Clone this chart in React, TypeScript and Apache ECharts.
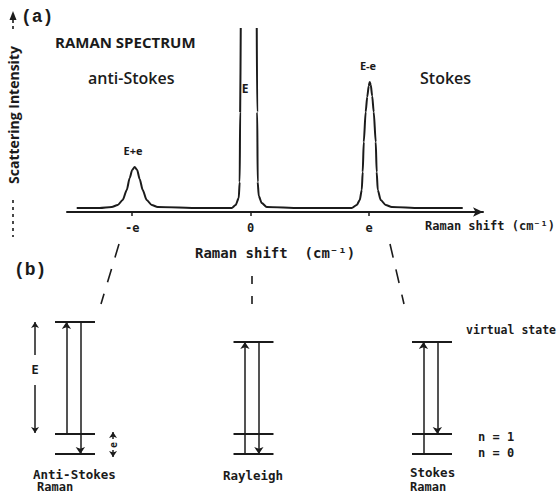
import React, { useEffect, useRef } from 'react';
import * as echarts from 'echarts';

// ---- (a) Raman spectrum: shift in units of e, intensity in arbitrary units
const shiftValues = [
  -1.468, -1.274, -1.173, -1.122, -1.08, -1.046, -1.021, -1.0, -0.979, -0.958, -0.937, -0.911, -0.878,
  -0.835, -0.785, -0.43, -0.16, -0.127, -0.101, -0.093, -0.089, -0.084, -0.016, 0.051, 0.055, 0.059,
  0.068, 0.093, 0.135, 0.414, 0.852, 0.895, 0.92, 0.937, 0.945, 0.954, 0.97, 0.983, 0.996, 1.004,
  1.013, 1.025, 1.038, 1.055, 1.063, 1.072, 1.097, 1.139, 1.19, 1.426, 1.789,
];
const intensityValues: (number | null)[] = [
  4, 4, 5, 7, 12, 22, 34, 42, 45, 42, 33, 22, 12, 7, 5, 4, 4, 7, 14, 30, 100, 184, null, 184, 100, 30,
  16, 9, 5, 4, 4, 7, 12, 22, 40, 70, 100, 115, 126, 130, 127, 116, 100, 70, 40, 22, 12, 7, 5, 4, 4,
];
const tickValues = [-1, 0, 1];
const tickLabels = ['-e', '0', 'e'];

// ---- (b) energy-level diagrams (energy in units of e)
const diagramColumns = [0, 1, 2];
const diagramNames = ['Anti-Stokes', 'Rayleigh', 'Stokes'];
const startLevels = [1, 0, 0];
const endLevels = [0, 0, 1];
const vibLevels = [0, 1];
const photonEnergy = 5.6;

const INK = '#1b1b1b';
const MONO = "'DejaVu Sans Mono', monospace";
const SANS = "'Open Sans', 'DejaVu Sans', sans-serif";

export default function App() {
  const ref = useRef<HTMLDivElement>(null);

  useEffect(() => {
    const chart = echarts.init(ref.current!, null, { renderer: 'svg' });

    const spectrum = shiftValues.map((x, i) => [x, intensityValues[i] === null ? '-' : intensityValues[i]]);

    const halfW = 0.112;
    const upOff = -0.048;
    const downOff = 0.03;
    const levelLines: any[] = [];
    const arrows: any[] = [];
    diagramColumns.forEach((c, i) => {
      const virt = startLevels[i] + photonEnergy;
      [...vibLevels, virt].forEach((lv) => {
        levelLines.push({ coords: [[c - halfW, lv], [c + halfW, lv]] });
      });
      arrows.push({ coords: [[c + upOff, startLevels[i]], [c + upOff, virt]] });
      arrows.push({ coords: [[c + downOff, virt], [c + downOff, endLevels[i]]] });
    });
    // E and e dimension arrows beside the anti-Stokes diagram
    const eX = -0.224;
    const vibX = 0.213;
    const topAS = startLevels[0] + photonEnergy;
    const dimArrows = [
      { coords: [[eX, 4.95], [eX, topAS]] },
      { coords: [[eX, 3.45], [eX, vibLevels[1] + 0.05]] },
      { coords: [[vibX, 0.75], [vibX, vibLevels[1] + 0.1]] },
      { coords: [[vibX, 0.2], [vibX, vibLevels[0] - 0.15]] },
    ];

    const txt = (text: string, x: number, y: number, o: any = {}) => ({
      type: 'text',
      x,
      y,
      rotation: o.rotation || 0,
      style: {
        text,
        fill: INK,
        fontFamily: o.family || MONO,
        fontSize: o.size || 12,
        fontWeight: o.weight || 'bold',
        align: o.align || 'left',
        verticalAlign: 'middle',
      },
    });
    const dash = (x1: number, y1: number, x2: number, y2: number, d: number[]) => ({
      type: 'line',
      shape: { x1, y1, x2, y2 },
      style: { stroke: INK, lineWidth: 1.6, lineDash: d },
    });

    const option: any = {
      animation: false,
      backgroundColor: '#ffffff',
      grid: [
        { left: 67, right: 77, top: 12, bottom: 283 },
        { left: 30.375, right: 83.375, top: 314, bottom: 21 },
      ],
      xAxis: [
        {
          gridIndex: 0,
          type: 'value',
          min: -1.55,
          max: 1.96,
          splitLine: { show: false },
          axisLine: {
            show: true,
            onZero: false,
            symbol: ['none', 'arrow'],
            symbolSize: [7, 10],
            lineStyle: { color: INK, width: 2 },
          },
          axisTick: { show: true, customValues: tickValues, length: 4, lineStyle: { color: INK, width: 1.5 } },
          axisLabel: {
            customValues: tickValues,
            formatter: (v: number) => tickLabels[tickValues.indexOf(Math.round(v))],
            color: INK,
            fontFamily: MONO,
            fontWeight: 'bold',
            fontSize: 12,
            margin: 10,
          },
        },
        { gridIndex: 1, type: 'value', min: -0.25, max: 2.25, show: false },
      ],
      yAxis: [
        { gridIndex: 0, type: 'value', min: 0, max: 200, show: false },
        { gridIndex: 1, type: 'value', min: -1, max: 7, show: false },
      ],
      series: [
        {
          type: 'line',
          xAxisIndex: 0,
          yAxisIndex: 0,
          data: spectrum,
          showSymbol: false,
          smooth: 0.25,
          smoothMonotone: 'x',
          connectNulls: false,
          lineStyle: { color: INK, width: 2 },
          silent: true,
        },
        {
          type: 'lines',
          coordinateSystem: 'cartesian2d',
          xAxisIndex: 1,
          yAxisIndex: 1,
          symbol: 'none',
          lineStyle: { color: INK, width: 2, opacity: 1, curveness: 0 },
          data: levelLines,
          silent: true,
        },
        {
          type: 'lines',
          coordinateSystem: 'cartesian2d',
          xAxisIndex: 1,
          yAxisIndex: 1,
          symbol: ['none', 'arrow'],
          symbolSize: 7,
          lineStyle: { color: INK, width: 1.5, opacity: 1, curveness: 0 },
          data: arrows,
          silent: true,
        },
        {
          type: 'lines',
          coordinateSystem: 'cartesian2d',
          xAxisIndex: 1,
          yAxisIndex: 1,
          symbol: ['none', 'arrow'],
          symbolSize: 6,
          lineStyle: { color: INK, width: 1.5, opacity: 1, curveness: 0 },
          data: dimArrows,
          silent: true,
        },
      ],
      graphic: [
        // panel (a)
        txt('(a)', 21, 17, { family: "'Liberation Mono', monospace", size: 18 }),
        {
          type: 'polygon',
          shape: { points: [[9.5, 20], [13, 11], [16.5, 20]] },
          style: { fill: INK },
        },
        dash(13, 20, 13, 31, [3, 3]),
        txt('Scattering Intensity', 13, 115, { family: SANS, size: 14, align: 'center', rotation: Math.PI / 2 }),
        dash(13, 200, 13, 237, [3, 4]),
        txt('RAMAN SPECTRUM', 55, 42, { family: SANS, size: 15 }),
        txt('anti-Stokes', 88, 78, { family: SANS, size: 16, weight: 600 }),
        txt('Stokes', 420, 78, { family: SANS, size: 16, weight: 600 }),
        txt('E+e', 133, 150, { family: SANS, size: 11, align: 'center' }),
        txt('E', 245, 88, { family: SANS, size: 12, align: 'center' }),
        txt('E-e', 368, 65, { family: SANS, size: 11, align: 'center' }),
        txt('Raman shift (cm⁻¹)', 425, 226, { size: 12 }),
        txt('Raman shift  (cm⁻¹)', 195, 253, { size: 14 }),
        // connectors
        dash(119, 244, 101, 304, [14, 12]),
        dash(252, 276, 252, 305, [8, 12]),
        dash(390, 244, 404, 304, [14, 12]),
        // panel (b)
        txt('(b)', 14, 270, { family: "'Liberation Mono', monospace", size: 18 }),
        txt('virtual state', 466, 330, { size: 11.5 }),
        txt('n = 1', 478, 437, { size: 12 }),
        txt('n = 0', 478, 453, { size: 12 }),
        txt('E', 35, 370, { size: 12, align: 'center' }),
        txt('e', 113, 445, { size: 10, align: 'center', rotation: Math.PI / 2 }),
        txt(diagramNames[0], 33, 474, { size: 12.5 }),
        txt('Raman', 37, 487, { size: 12 }),
        txt(diagramNames[1], 253, 475, { size: 12.5, align: 'center' }),
        txt(diagramNames[2], 410, 472, { size: 12.5 }),
        txt('Raman', 410, 487, { size: 12 }),
      ],
    };

    chart.setOption(option);
    return () => chart.dispose();
  }, []);

  return (
    <div
      ref={ref}
      style={{ position: 'fixed', left: 0, top: 0, width: 560, height: 495, background: '#ffffff' }}
    />
  );
}
